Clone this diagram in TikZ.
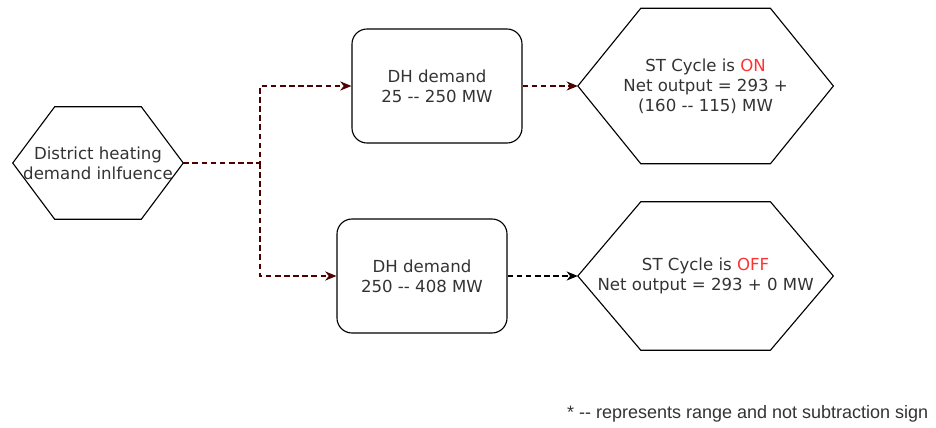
\documentclass[tikz,border=0pt]{standalone}
\usepackage{fontspec}
\setmainfont{DejaVu Sans}
\newfontfamily\notefont{Liberation Sans}
\usetikzlibrary{arrows.meta}
\definecolor{txtgrey}{HTML}{333333}
\definecolor{stred}{HTML}{FF3333}
\definecolor{wirered}{HTML}{4C0000}
\newcommand{\rng}{-\kern0pt-}
\newcommand{\hexoutline}[2]{\draw[line width=0.8pt] (#1.west) -- ([xshift=#2]#1.north west) -- ([xshift=-#2]#1.north east) -- (#1.east) -- ([xshift=-#2]#1.south east) -- ([xshift=#2]#1.south west) -- cycle;}
\begin{document}
\begin{tikzpicture}[
	txt/.style={inner sep=0pt, align=center, text=txtgrey, font=\fontsize{11.8}{14.2}\selectfont},
	dhbox/.style={txt, shape=rectangle, draw=black, line width=0.8pt, rounded corners=0.375cm, minimum width=4.25cm, minimum height=2.85cm},
	wire/.style={draw=wirered, line width=0.8pt, dash pattern=on 4pt off 2.5pt, -{Stealth[length=8pt, width=6.5pt, inset=2.5pt]}}
]
	\useasboundingbox (0,0) rectangle (23.4,-10.675);
	% Paths, nodes and wires:
	\node[txt, minimum width=4.25cm, minimum height=2.8cm] (src) at (2.45, -4.075){District heating\\demand inlfuence};
	\hexoutline{src}{1.05cm}
	\node[dhbox] (dhlow) at (10.925, -2.15){DH demand\\25 \rng{} 250 MW};
	\node[dhbox] (dhhigh) at (10.55, -6.9){DH demand\\250 \rng{} 408 MW};
	\node[txt, minimum width=6.375cm, minimum height=3.875cm] (ston) at (17.64, -2.15){ST Cycle is \textcolor{stred}{ON}\\Net output = 293 +\\(160 \rng{} 115) MW};
	\hexoutline{ston}{1.575cm}
	\node[txt, minimum width=6.375cm, minimum height=3.7cm] (stoff) at (17.64, -6.9){ST Cycle is \textcolor{stred}{OFF}\\Net output = 293 + 0 MW};
	\hexoutline{stoff}{1.575cm}
	\coordinate (split) at (6.5, -4.075);
	\draw[wire] (src.east) -- (split) |- (dhlow.west);
	\draw[wire] (split) |- (dhhigh.west);
	\draw[wire] (dhlow.east) -- (ston.west);
	\draw[wire, draw=black] (dhhigh.east) -- (stoff.west);
	\node[inner sep=0pt, text=txtgrey, font=\notefont\fontsize{12.8}{15}\selectfont] (note) at (18.69, -10.35){* \rng{} represents range and not subtraction sign};
\end{tikzpicture}
\end{document}
